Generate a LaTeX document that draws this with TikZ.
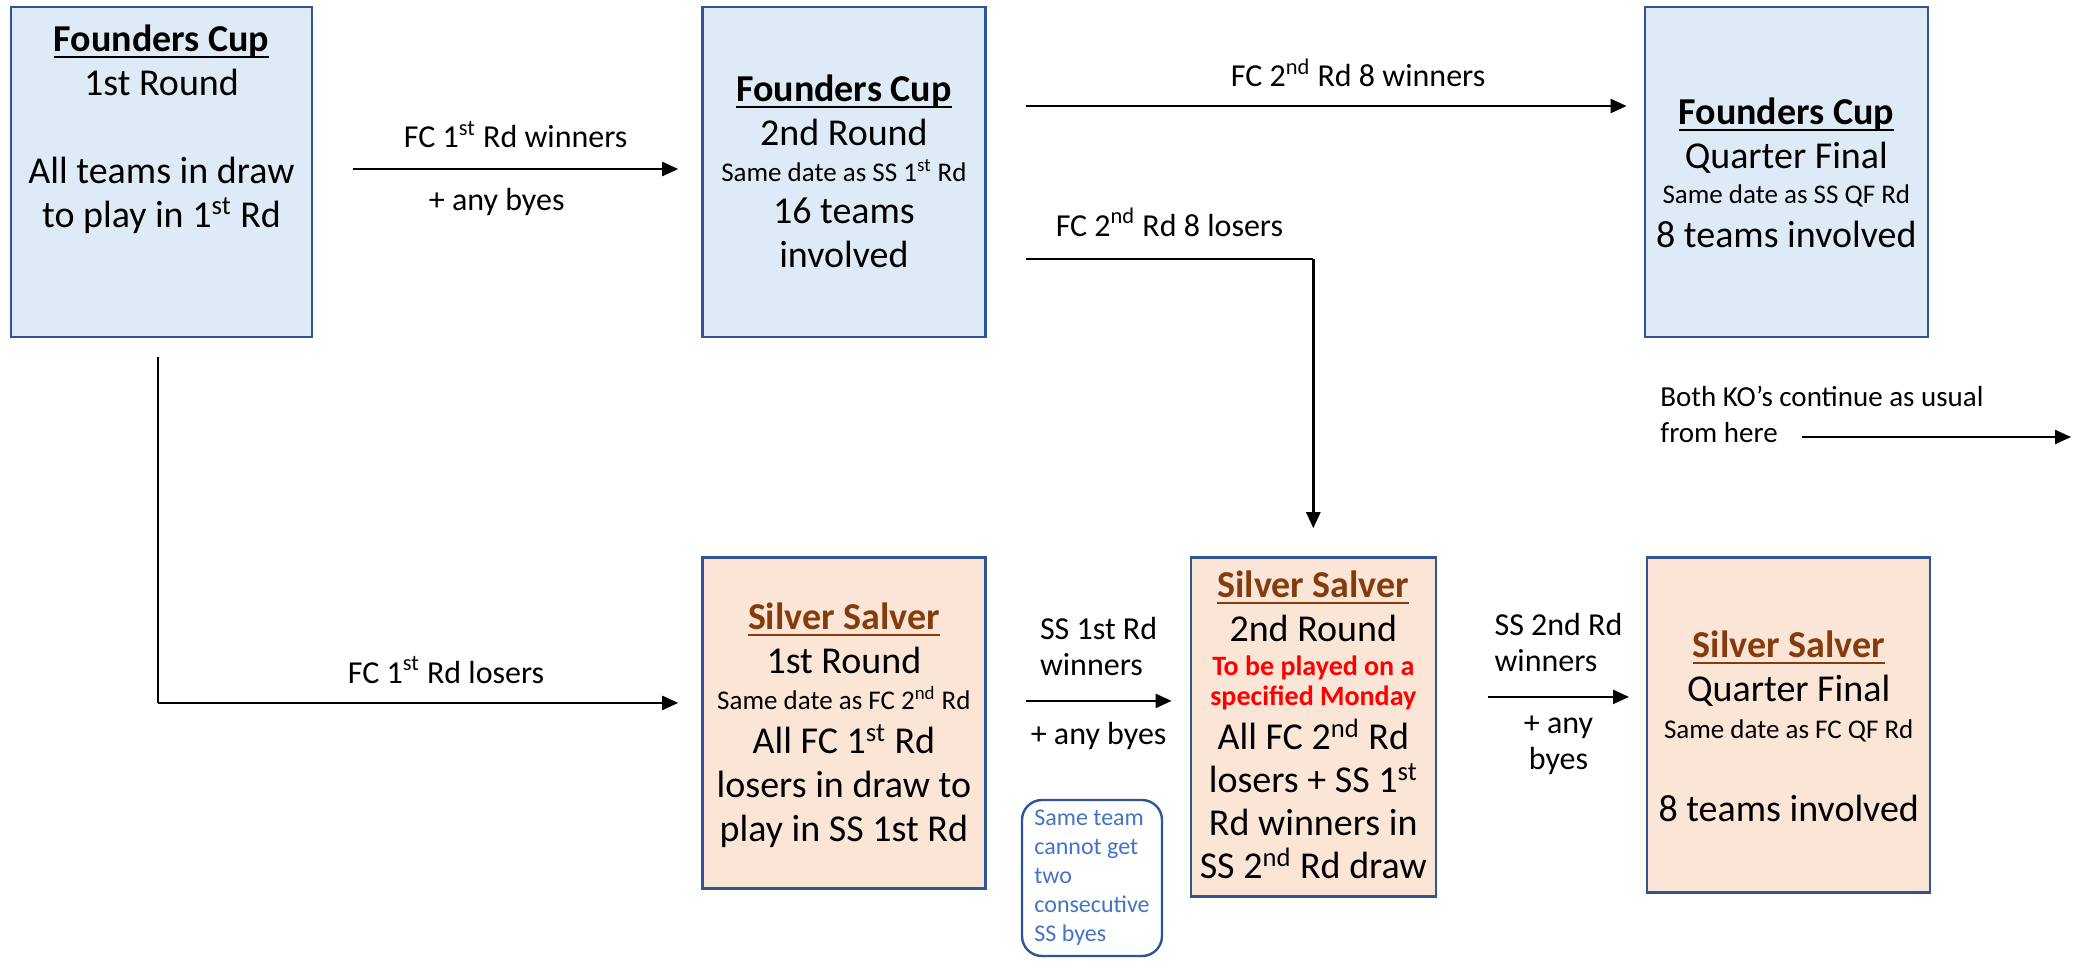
\documentclass[tikz,border=0pt]{standalone}
\usepackage{fontspec}
\setmainfont{Carlito}
\usetikzlibrary{arrows.meta,positioning}

\definecolor{fcfill}{RGB}{222,235,247}
\definecolor{ssfill}{RGB}{251,229,214}
\definecolor{boxline}{RGB}{47,85,151}
\definecolor{ssbrown}{RGB}{132,60,12}
\definecolor{noteblue}{RGB}{68,114,196}

\newcommand{\mainsz}{\fontsize{19}{22}\selectfont}
\newcommand{\smallsz}{\fontsize{13.5}{16}\selectfont}
\newcommand{\labsz}{\fontsize{16}{18}\selectfont}
\newcommand{\redsz}{\fontsize{14}{16}\selectfont\bfseries\color{red}}
\newcommand{\titleul}[1]{\setbox0\hbox{#1}\leavevmode\rlap{\rule[-3.2pt]{\wd0}{1pt}}\box0}
\newcommand{\fctitle}{\titleul{\textbf{Founders Cup}}}
\newcommand{\sstitle}{\textcolor{ssbrown}{\titleul{\textbf{Silver Salver}}}}

\tikzset{
  fcbox/.style={draw=boxline, line width=1.2pt, fill=fcfill, minimum width=141.5pt, minimum height=165pt},
  ssbox/.style={fcbox, fill=ssfill},
  boxtext/.style={align=center, font=\mainsz, inner sep=0pt, anchor=north},
  lab/.style={font=\labsz, inner sep=0pt},
  flow/.style={line width=1.2pt, -{Triangle[length=8pt,width=7pt]}},
  feed/.style={line width=0.6pt},
  notebox/.style={draw=boxline, line width=1.2pt, rounded corners=10pt, minimum width=70pt, minimum height=78pt,
    align=left, inner xsep=5pt, inner ysep=0pt, text=noteblue, font=\fontsize{12}{14.5}\selectfont},
}

\begin{document}
\begin{tikzpicture}[x=0.5pt,y=-0.5pt]
\useasboundingbox (0,0) rectangle (2082,960);

% founders cup row
\node[fcbox, minimum width=150.5pt] (fc1) at (161.5,172) {};
\node[fcbox, right=194pt of fc1]    (fc2) {};
\node[fcbox, right=328.5pt of fc2]  (fcqf) {};

% silver salver row
\node[ssbox, minimum height=165.5pt, below=109pt of fc2] (ss1) {};
\node[ssbox, minimum width=122.5pt, minimum height=169.5pt, right=101.5pt of ss1, yshift=-2pt] (ss2) {};
\node[ssbox, minimum height=167.5pt, right=104.5pt of ss2, yshift=1pt] (ssqf) {};

% box texts
\node[boxtext] (fc1t) at ([yshift=-9.3pt]fc1.north)
  {\fctitle\\ 1st Round\\[22pt] All teams in draw\\ to play in 1\textsuperscript{st} Rd};
\node[boxtext] (fc2t) at ([yshift=-34.3pt]fc2.north)
  {\fctitle\\ 2nd Round\\[-4pt] {\smallsz Same date as SS 1\textsuperscript{st} Rd}\\[-1pt] 16 teams\\ involved};
\node[boxtext] (fcqft) at ([yshift=-45.8pt]fcqf.north)
  {\fctitle\\ Quarter Final\\[-4.5pt] {\smallsz Same date as SS QF Rd}\\ 8 teams involved};
\node[boxtext] (ss1t) at ([yshift=-23.3pt]ss1.north)
  {\sstitle\\ 1st Round\\[-4pt] {\smallsz Same date as FC 2\textsuperscript{nd} Rd}\\ All FC 1\textsuperscript{st} Rd\\ losers in draw to\\ play in SS 1st Rd};
\node[boxtext] (ss2t) at ([yshift=-7.3pt]ss2.north)
  {\sstitle\\ 2nd Round\\[-5pt] {\redsz To be played on a}\\[-7pt] {\redsz specified Monday}\\ All FC 2\textsuperscript{nd} Rd\\[-0.5pt] losers + SS 1\textsuperscript{st}\\[-0.5pt] Rd winners in\\[-0.5pt] SS 2\textsuperscript{nd} Rd draw};
\node[boxtext] (ssqft) at ([yshift=-37.3pt]ssqf.north)
  {\sstitle\\ Quarter Final\\[-3.5pt] {\smallsz Same date as FC QF Rd}\\[19.5pt] 8 teams involved};

% note and remark
\node[notebox] (note) at (1092,878) {Same team\\cannot get\\two\\consecutive\\SS byes};
\node[lab, font=\fontsize{14.5}{18}\selectfont, align=left, anchor=north west] (ko) at (1660,386)
  {Both KO's continue as usual\\from here};

% connectors
\draw[flow] ([xshift=20pt,yshift=1.5pt]fc1.east) -- ([xshift=-11.5pt,yshift=1.5pt]fc2.west)
  node[lab, midway, above=10pt] (lwin1) {FC 1\textsuperscript{st} Rd winners}
  node[lab, midway, below=9pt, xshift=-9.5pt] (lbye1) {+ any byes};
\draw[flow] ([xshift=19.5pt,yshift=33pt]fc2.east) -- ([xshift=-8.5pt,yshift=33pt]fcqf.west)
  node[lab, midway, above=9pt, xshift=16pt] (lwin2) {FC 2\textsuperscript{nd} Rd 8 winners};

\coordinate (lose2) at ([xshift=19.5pt,yshift=-43.5pt]fc2.east);
\coordinate (turn2) at (lose2 -| ss2.north);
\draw[feed] (lose2) -- (turn2)
  node[lab, midway, above=11pt] (llose2) {FC 2\textsuperscript{nd} Rd 8 losers};
\draw[flow, shorten >=14pt] (turn2) -- (ss2.north);

\coordinate (ss1in) at ([xshift=-11.5pt,yshift=10pt]ss1.west);
\coordinate (turn1) at ([xshift=-1.8pt]fc1.south |- ss1in);
\draw[feed] ([xshift=-1.8pt,yshift=-9.5pt]fc1.south) -- (turn1);
\draw[flow] (turn1) -- (ss1in)
  node[lab, midway, above=9pt, xshift=14pt] (llose1) {FC 1\textsuperscript{st} Rd losers};

\coordinate (w1a) at ([xshift=19.5pt,yshift=11pt]ss1.east);
\coordinate (w1b) at ([xshift=-9pt]w1a -| ss2.west);
\draw[flow] (w1a) -- (w1b)
  node[lab, midway, above=12pt, align=left] (lwin3) {SS 1st Rd\\winners}
  node[lab, midway, below=10pt] (lbye3) {+ any byes};

\coordinate (w2a) at ([xshift=25.5pt,yshift=15pt]ss2.east);
\coordinate (w2b) at ([xshift=-8.5pt]w2a -| ssqf.west);
\draw[flow] (w2a) -- (w2b)
  node[lab, midway, above=12pt, align=left] (lwin4) {SS 2nd Rd\\winners}
  node[lab, midway, below=9pt, align=center] (lbye4) {+ any\\byes};

\coordinate (kofrom) at (1802,437);
\coordinate (koto) at (2071,437);
\draw[flow] (kofrom) -- (koto);
\end{tikzpicture}
\end{document}
